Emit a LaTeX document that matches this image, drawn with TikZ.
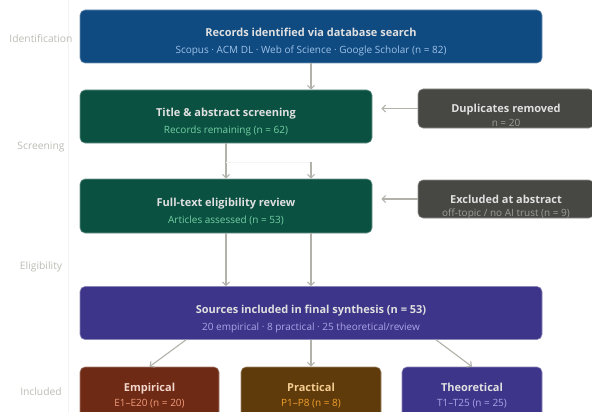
\documentclass[tikz,border=0pt]{standalone}
\usepackage{fontspec}
\setmainfont{Open Sans}
\usetikzlibrary{arrows.meta}

\definecolor{idFill}{HTML}{0F4A80}
\definecolor{idSub}{HTML}{9EC2EA}
\definecolor{scrFill}{HTML}{0B5142}
\definecolor{scrSub}{HTML}{72D0A2}
\definecolor{exFill}{HTML}{474743}
\definecolor{exSub}{HTML}{9C9C98}
\definecolor{inFill}{HTML}{3D3589}
\definecolor{inSub}{HTML}{ABA4E8}
\definecolor{empFill}{HTML}{6E2A14}
\definecolor{empText}{HTML}{F2D6CC}
\definecolor{empSub}{HTML}{F29C7C}
\definecolor{pracFill}{HTML}{5F3A0A}
\definecolor{pracText}{HTML}{F4CC92}
\definecolor{pracSub}{HTML}{F2A22C}
\definecolor{stageGray}{HTML}{BDBDB5}
\definecolor{arrowGray}{HTML}{B2B2AA}

\begin{document}
\begin{tikzpicture}[x=1pt, y=-1pt,
    box/.style={rounded corners=5pt, inner sep=0pt, line width=0.6pt},
    ttl/.style={anchor=base, inner sep=0pt, text=white!88!black, font=\fontsize{11}{13}\selectfont\bfseries},
    sub/.style={anchor=base, inner sep=0pt, font=\fontsize{10}{12}\selectfont},
    stage/.style={text=stageGray, font=\fontsize{10.3}{12}\selectfont},
    arr/.style={draw=arrowGray, line width=1.1pt, -{Straight Barb[length=3.5pt, width=7pt]}}]
    \clip (0,0) rectangle (592,412);
    \fill[white] (0,0) rectangle (592,412);
    \draw[black!5] (68,0) -- (68,412);

    \node[stage] (s1) at (41,39) {Identification};
    \node[stage] (s2) at (41,147) {Screening};
    \node[stage] (s3) at (41,267) {Eligibility};
    \node[stage] (s4) at (41,392) {Included};

    \node[box, fill=idFill, draw=idFill!60!white, minimum width=462, minimum height=53] (ident) at (311,36.5) {};
    \node[ttl] (identTitle) at (311,36.5) {Records identified via database search};
    \node[sub, text=idSub] (identSub) at (311,53.5) {Scopus · ACM DL · Web of Science · Google Scholar (n = 82)};

    \node[box, fill=scrFill, draw=scrFill!60!white, minimum width=292, minimum height=53] (screen) at (226,116.5) {};
    \node[ttl] (screenTitle) at (226,116.5) {Title \& abstract screening};
    \node[sub, text=scrSub] (screenSub) at (226,133.5) {Records remaining (n = 62)};

    \node[box, fill=exFill, draw=exFill!60!white, minimum width=176, minimum height=39] (dup) at (506,108.5) {};
    \node[ttl] (dupTitle) at (506,113) {Duplicates removed};
    \node[sub, text=exSub] (dupSub) at (506,126) {n = 20};

    \node[box, fill=scrFill, draw=scrFill!60!white, minimum width=292, minimum height=54] (full) at (226,206) {};
    \node[ttl] (fullTitle) at (226,206) {Full-text eligibility review};
    \node[sub, text=scrSub] (fullSub) at (226,223) {Articles assessed (n = 53)};

    \node[box, fill=exFill, draw=exFill!60!white, minimum width=176, minimum height=38] (excl) at (506,199) {};
    \node[ttl] (exclTitle) at (506,203) {Excluded at abstract};
    \node[sub, text=exSub] (exclSub) at (506,216) {off-topic / no AI trust (n = 9)};

    \node[box, fill=inFill, draw=inFill!60!white, minimum width=462, minimum height=53] (incl) at (311,313) {};
    \node[ttl] (inclTitle) at (311,313) {Sources included in final synthesis (n = 53)};
    \node[sub, text=inSub] (inclSub) at (311,330) {20 empirical · 8 practical · 25 theoretical/review};

    \node[box, fill=empFill, draw=empFill!60!white, minimum width=139, minimum height=53] (emp) at (149.5,393.5) {};
    \node[ttl, text=empText] (empTitle) at (149.5,391) {Empirical};
    \node[sub, text=empSub] (empSub) at (149.5,406) {E1–E20 (n = 20)};

    \node[box, fill=pracFill, draw=pracFill!60!white, minimum width=140, minimum height=53] (prac) at (311,393.5) {};
    \node[ttl, text=pracText] (pracTitle) at (311,391) {Practical};
    \node[sub, text=pracSub] (pracSub) at (311,406) {P1–P8 (n = 8)};

    \node[box, fill=inFill, draw=inFill!60!white, minimum width=140, minimum height=53] (theo) at (472,393.5) {};
    \node[ttl] (theoTitle) at (472,391) {Theoretical};
    \node[sub, text=inSub] (theoSub) at (472,406) {T1–T25 (n = 25)};

    \coordinate (split) at (311,162);

    \draw[arr] (ident.south) -- (ident.south |- screen.north);
    \draw[arr, shorten >=9pt] (dup.west) -- (dup.west -| screen.east);
    \draw[arr] (screen.south) -- (full.north);
    \draw[black!4] (screen.south |- split) -- (split);
    \draw[arr] (split) -- (split |- full.north);
    \draw[arr, shorten >=9pt] (excl.west) -- (excl.west -| full.east);
    \draw[arr] (full.south) -- (full.south |- incl.north);
    \draw[arr] (split |- full.south) -- (split |- incl.north);
    \draw[arr] ([xshift=-125pt]incl.south) -- (emp.north);
    \draw[arr] (incl.south) -- (prac.north);
    \draw[arr] ([xshift=125pt]incl.south) -- (theo.north);
\end{tikzpicture}
\end{document}
